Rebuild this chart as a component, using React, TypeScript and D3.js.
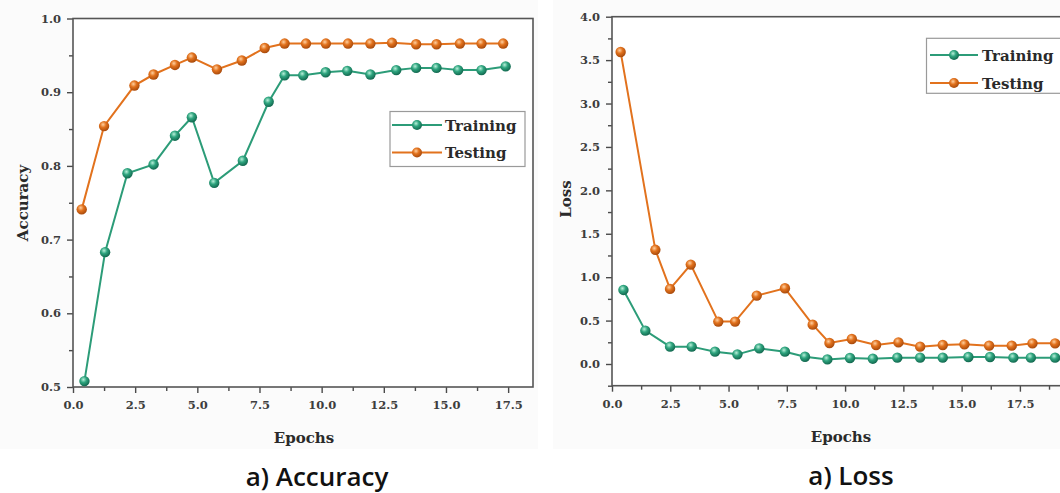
import React, { useEffect, useRef } from 'react';
import * as d3 from 'd3';

// ---------- DATA ----------
const seriesNames = ['Training', 'Testing'];
const seriesColors = ['#2c9c78', '#e2721d'];

const accTrainEpochs = [0.46, 1.29, 2.19, 3.24, 4.10, 4.78, 5.68, 6.83, 7.87, 8.51, 9.26, 10.16, 11.03, 11.96, 13.0, 13.80, 14.62, 15.49, 16.43, 17.40];
const accTrain = [0.508, 0.683, 0.790, 0.802, 0.841, 0.866, 0.777, 0.807, 0.887, 0.923, 0.923, 0.927, 0.929, 0.924, 0.930, 0.933, 0.933, 0.930, 0.930, 0.935];
const accTestEpochs = [0.35, 1.25, 2.47, 3.24, 4.10, 4.78, 5.79, 6.79, 7.71, 8.51, 9.37, 10.17, 11.06, 11.96, 12.83, 13.80, 14.62, 15.56, 16.43, 17.30];
const accTest = [0.741, 0.854, 0.909, 0.924, 0.937, 0.947, 0.931, 0.943, 0.960, 0.966, 0.966, 0.966, 0.966, 0.966, 0.967, 0.965, 0.965, 0.966, 0.966, 0.966];

const lossTrainEpochs = [0.49, 1.43, 2.49, 3.42, 4.42, 5.38, 6.32, 7.42, 8.28, 9.24, 10.21, 11.19, 12.24, 13.22, 14.19, 15.29, 16.22, 17.22, 17.97, 19.01];
const lossTrain = [0.853, 0.384, 0.200, 0.200, 0.142, 0.111, 0.180, 0.142, 0.084, 0.053, 0.069, 0.061, 0.073, 0.073, 0.073, 0.081, 0.081, 0.073, 0.073, 0.073];
const lossTestEpochs = [0.37, 1.86, 2.49, 3.38, 4.56, 5.28, 6.21, 7.42, 8.61, 9.33, 10.29, 11.33, 12.29, 13.22, 14.19, 15.12, 16.18, 17.15, 18.04, 19.01];
const lossTest = [3.594, 1.315, 0.865, 1.145, 0.488, 0.488, 0.788, 0.872, 0.453, 0.242, 0.288, 0.219, 0.249, 0.200, 0.219, 0.226, 0.211, 0.211, 0.238, 0.238];

const xTickValues = [0, 2.5, 5, 7.5, 10, 12.5, 15, 17.5];
const xMinorValues = [1.25, 3.75, 6.25, 8.75, 11.25, 13.75, 16.25, 18.75];
const accYTicks = [0.5, 0.6, 0.7, 0.8, 0.9, 1.0];
const accYMinor = [0.55, 0.65, 0.75, 0.85, 0.95];
const lossYTicks = [0, 0.5, 1.0, 1.5, 2.0, 2.5, 3.0, 3.5, 4.0];
const lossYMinor = [-0.25, 0.25, 0.75, 1.25, 1.75, 2.25, 2.75, 3.25, 3.75];

const xAxisTitle = 'Epochs';
const panelTitles = ['a) Accuracy', 'a) Loss'];
const yAxisTitles = ['Accuracy', 'Loss'];

// ---------- LAYOUT ----------
const W = 1060;
const H = 493;
const serif = '"DejaVu Serif", serif';

interface PanelCfg {
  left: number; right: number; top: number; bottom: number;
  xDomain: [number, number]; yDomain: [number, number];
  yTicks: number[]; yMinor: number[];
  series: { x: number[]; y: number[] }[];
  legend: { x: number; y: number; w: number; h: number; rows: number[]; lx0: number; lx1: number; tx: number };
  yTitle: string; yTitleX: number; yTitleY: number;
  xTitleX: number; xTitleY: number;
  title: string; titleX: number; titleY: number;
  bg: { x: number; y: number; w: number; h: number };
}

const panels: PanelCfg[] = [
  {
    left: 73, right: 533, top: 18.5, bottom: 387,
    xDomain: [0, 18.5], yDomain: [0.5, 1.0],
    yTicks: accYTicks, yMinor: accYMinor,
    series: [{ x: accTrainEpochs, y: accTrain }, { x: accTestEpochs, y: accTest }],
    legend: { x: 390, y: 111.5, w: 135, h: 55, rows: [125, 152.5], lx0: 392, lx1: 442, tx: 445 },
    yTitle: yAxisTitles[0], yTitleX: 23, yTitleY: 203,
    xTitleX: 304, xTitleY: 443,
    title: panelTitles[0], titleX: 317, titleY: 486,
    bg: { x: 0, y: 0, w: 538, h: 449 },
  },
  {
    left: 612, right: 1070, top: 16.7, bottom: 385.7,
    xDomain: [0, 19.65], yDomain: [-0.25, 4.0],
    yTicks: lossYTicks, yMinor: lossYMinor,
    series: [{ x: lossTrainEpochs, y: lossTrain }, { x: lossTestEpochs, y: lossTest }],
    legend: { x: 926.5, y: 38.3, w: 160, h: 55, rows: [55, 83], lx0: 930, lx1: 978, tx: 982 },
    yTitle: yAxisTitles[1], yTitleX: 566, yTitleY: 199,
    xTitleX: 841, xTitleY: 442,
    title: panelTitles[1], titleX: 851, titleY: 485,
    bg: { x: 553, y: 0, w: 520, h: 449 },
  },
];

export default function App() {
  const ref = useRef<SVGSVGElement | null>(null);

  useEffect(() => {
    const svg = d3.select(ref.current);
    svg.selectAll('*').remove();

    const defs = svg.append('defs');
    const grads = [
      { id: 'ballG', light: '#b9f0da', mid: '#2fa57f', dark: '#12684f' },
      { id: 'ballO', light: '#ffd0a0', mid: '#e2721d', dark: '#a84a0c' },
    ];
    grads.forEach(g => {
      const rg = defs.append('radialGradient').attr('id', g.id)
        .attr('cx', '40%').attr('cy', '35%').attr('r', '65%');
      rg.append('stop').attr('offset', '0%').attr('stop-color', g.light);
      rg.append('stop').attr('offset', '45%').attr('stop-color', g.mid);
      rg.append('stop').attr('offset', '100%').attr('stop-color', g.dark);
    });
    const ballIds = ['url(#ballG)', 'url(#ballO)'];

    svg.append('rect').attr('width', W).attr('height', H).attr('fill', '#ffffff');

    panels.forEach(p => {
      svg.append('rect')
        .attr('x', p.bg.x).attr('y', p.bg.y).attr('width', p.bg.w).attr('height', p.bg.h)
        .attr('fill', '#fbfbfb');

      const x = d3.scaleLinear().domain(p.xDomain).range([p.left, p.right]);
      const y = d3.scaleLinear().domain(p.yDomain).range([p.bottom, p.top]);

      const g = svg.append('g');

      // plot background
      g.append('rect')
        .attr('x', p.left).attr('y', p.top)
        .attr('width', p.right - p.left).attr('height', p.bottom - p.top)
        .attr('fill', '#ffffff');

      // x axis major
      const xAx = g.append('g').attr('transform', `translate(0,${p.bottom})`)
        .call(d3.axisBottom(x).tickValues(xTickValues).tickFormat(d3.format('.1f')).tickSize(6).tickSizeOuter(0).tickPadding(8));
      // x axis minor
      g.append('g').attr('transform', `translate(0,${p.bottom})`)
        .call(d3.axisBottom(x).tickValues(xMinorValues.filter(v => v <= p.xDomain[1])).tickFormat(() => '').tickSize(4).tickSizeOuter(0));
      // y axis major
      const yAx = g.append('g').attr('transform', `translate(${p.left},0)`)
        .call(d3.axisLeft(y).tickValues(p.yTicks).tickFormat(d3.format('.1f')).tickSize(6).tickSizeOuter(0).tickPadding(6));
      g.append('g').attr('transform', `translate(${p.left},0)`)
        .call(d3.axisLeft(y).tickValues(p.yMinor).tickFormat(() => '').tickSize(4).tickSizeOuter(0));

      g.selectAll('.domain').remove();
      g.selectAll('.tick line').attr('stroke', '#4a4a4a').attr('stroke-width', 1.4);
      [xAx, yAx].forEach(a => a.selectAll('text')
        .attr('font-family', serif).attr('font-weight', 'bold')
        .attr('font-size', 11.5).attr('fill', '#3d3d3d'));

      // frame
      g.append('rect')
        .attr('x', p.left).attr('y', p.top)
        .attr('width', p.right - p.left).attr('height', p.bottom - p.top)
        .attr('fill', 'none').attr('stroke', '#555555').attr('stroke-width', 1.6);

      // series
      p.series.forEach((s, si) => {
        const pts: [number, number][] = s.x.map((v, i) => [v, s.y[i]]);
        const line = d3.line<[number, number]>().x(d => x(d[0])).y(d => y(d[1]));
        g.append('path').attr('d', line(pts) as string)
          .attr('fill', 'none').attr('stroke', seriesColors[si]).attr('stroke-width', 2);
        g.selectAll(null).data(pts).enter().append('circle')
          .attr('cx', d => x(d[0])).attr('cy', d => y(d[1])).attr('r', 5.2)
          .attr('fill', ballIds[si]);
      });

      // legend
      const L = p.legend;
      g.append('rect').attr('x', L.x).attr('y', L.y).attr('width', L.w).attr('height', L.h)
        .attr('fill', '#ffffff').attr('stroke', '#9a9a9a').attr('stroke-width', 1.2);
      seriesNames.forEach((name, si) => {
        const ry = L.rows[si];
        g.append('line').attr('x1', L.lx0).attr('x2', L.lx1).attr('y1', ry).attr('y2', ry)
          .attr('stroke', seriesColors[si]).attr('stroke-width', 2);
        g.append('circle').attr('cx', (L.lx0 + L.lx1) / 2).attr('cy', ry).attr('r', 5)
          .attr('fill', ballIds[si]);
        g.append('text').attr('x', L.tx).attr('y', ry + 5.5)
          .attr('font-family', serif).attr('font-weight', 'bold').attr('font-size', 15)
          .attr('fill', '#2a2a2a').text(name);
      });

      // axis titles
      g.append('text')
        .attr('transform', `translate(${p.yTitleX},${p.yTitleY}) rotate(-90)`)
        .attr('text-anchor', 'middle').attr('dominant-baseline', 'central')
        .attr('font-family', serif).attr('font-weight', 'bold').attr('font-size', 15)
        .attr('fill', '#2a2a2a').text(p.yTitle);
      g.append('text').attr('x', p.xTitleX).attr('y', p.xTitleY)
        .attr('text-anchor', 'middle')
        .attr('font-family', serif).attr('font-weight', 'bold').attr('font-size', 15)
        .attr('fill', '#2a2a2a').text(xAxisTitle);

      // panel title
      svg.append('text').attr('x', p.titleX).attr('y', p.titleY)
        .attr('text-anchor', 'middle')
        .attr('font-family', '"Open Sans", sans-serif').attr('font-weight', 600).attr('font-size', 26)
        .attr('fill', '#111111').text(p.title);
    });
  }, []);

  return (
    <svg ref={ref} width={W} height={H}
      style={{ position: 'absolute', left: 0, top: 0, display: 'block' }} />
  );
}
